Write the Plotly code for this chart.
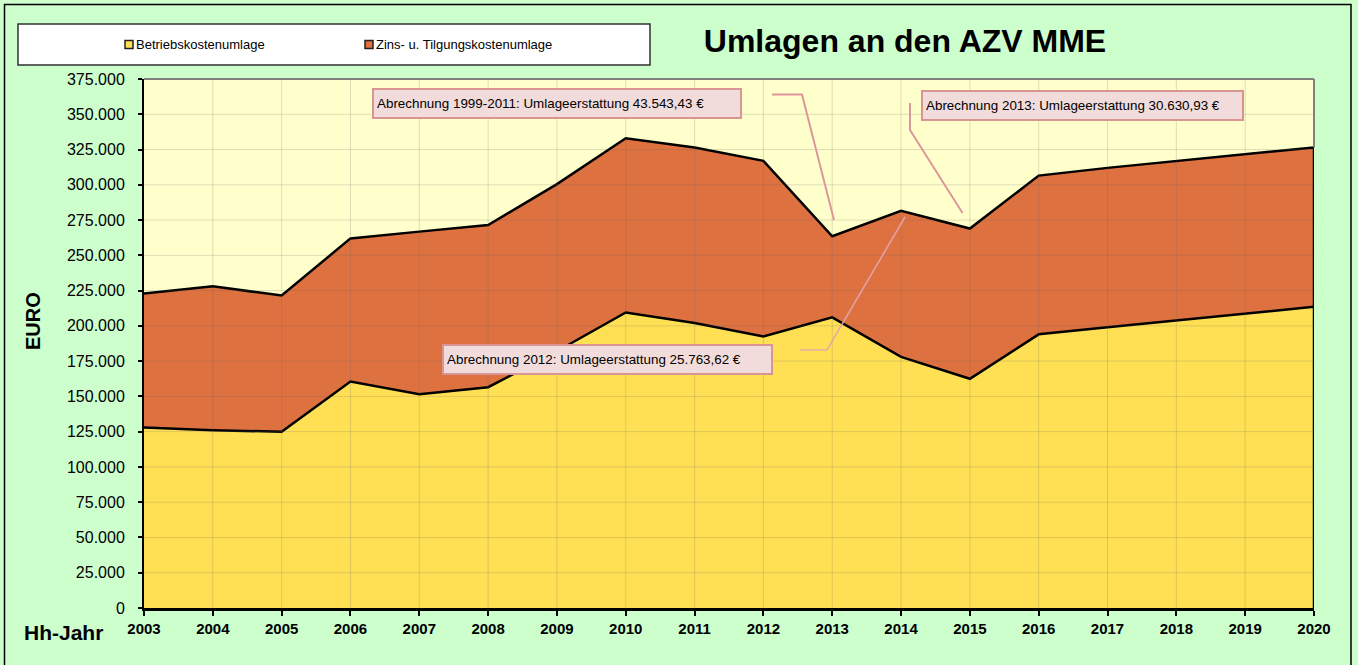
import plotly.graph_objects as go

# ---------------- data ----------------
years = [2003, 2004, 2005, 2006, 2007, 2008, 2009, 2010, 2011,
         2012, 2013, 2014, 2015, 2016, 2017, 2018, 2019, 2020]
betriebskosten = [128000, 126000, 125000, 160500, 151500, 156500, 182000, 209500, 202000,
                  192500, 206000, 178000, 162500, 194000, 199000, 204000, 208500, 213500]
zins_tilgung = [95000, 102000, 96500, 101500, 115300, 115000, 118500, 123500, 124500,
                124500, 57500, 103500, 106500, 112500, 113000, 113000, 113500, 113000]
y_ticks = [0, 25000, 50000, 75000, 100000, 125000, 150000, 175000, 200000,
           225000, 250000, 275000, 300000, 325000, 350000, 375000]
series_names = ["Betriebskostenumlage", "Zins- u. Tilgungskostenumlage"]
notes = ["Abrechnung 1999-2011: Umlageerstattung 43.543,43 €",
         "Abrechnung 2013: Umlageerstattung 30.630,93 €",
         "Abrechnung 2012: Umlageerstattung 25.763,62 €"]
title_text = "Umlagen an den AZV MME"
y_title = "EURO"
x_title = "Hh-Jahr"

# ---------------- styling ----------------
FONT = "Arial, 'Liberation Sans', sans-serif"
W, H = 1358, 665
L, R, T, B = 144, 1314, 79, 608          # plot area in pixels
PAPER_BG = "#CCFFCC"
PLOT_BG = "#FFFFCC"
YELLOW = "rgb(255,224,85)"
ORANGE = "rgb(222,113,64)"
GRID = "rgba(100,100,100,0.21)"
PINK_LINE = "rgb(222,150,155)"


def px(x):
    return (x - L) / (R - L)


def py(y):
    return (B - y) / (B - T)


fig = go.Figure()
fig.add_trace(go.Scatter(x=years, y=betriebskosten, name=series_names[0], stackgroup="s",
                         mode="lines", line=dict(color="black", width=2.5),
                         fillcolor=YELLOW, showlegend=False, hoverinfo="skip"))
fig.add_trace(go.Scatter(x=years, y=zins_tilgung, name=series_names[1], stackgroup="s",
                         mode="lines", line=dict(color="black", width=2.5),
                         fillcolor=ORANGE, showlegend=False, hoverinfo="skip"))
# right edge outline of the stacked area
fig.add_trace(go.Scatter(x=[years[-1], years[-1]],
                         y=[0, betriebskosten[-1] + zins_tilgung[-1]],
                         mode="lines", line=dict(color="black", width=2.5),
                         showlegend=False, hoverinfo="skip"))

shapes = []
# gridlines drawn above the areas (as in the original)
for yr in years[1:-1]:
    shapes.append(dict(type="line", xref="x", yref="paper", x0=yr, x1=yr, y0=0, y1=1,
                       line=dict(color=GRID, width=1), layer="above"))
for v in y_ticks[1:-1]:
    shapes.append(dict(type="line", xref="paper", yref="y", x0=0, x1=1, y0=v, y1=v,
                       line=dict(color=GRID, width=1), layer="above"))
# plot-area border (top and upper right, gray)
shapes.append(dict(type="line", xref="paper", yref="paper", x0=0, x1=1, y0=1, y1=1,
                   line=dict(color="#808080", width=2), layer="above"))
shapes.append(dict(type="line", xref="paper", yref="y", x0=1, x1=1,
                   y0=betriebskosten[-1] + zins_tilgung[-1], y1=y_ticks[-1],
                   line=dict(color="#808080", width=2), layer="above"))


# callout lines
def path(points):
    return "M " + " L ".join(f"{px(a):.5f},{py(b):.5f}" for a, b in points)


shapes.append(dict(type="path", xref="paper", yref="paper",
                   path=path([(772, 94.5), (802, 94.5), (834, 220)]),
                   line=dict(color=PINK_LINE, width=2), layer="above"))
shapes.append(dict(type="path", xref="paper", yref="paper",
                   path=path([(910, 103), (910, 130), (962.5, 213)]),
                   line=dict(color=PINK_LINE, width=2), layer="above"))
shapes.append(dict(type="path", xref="paper", yref="paper",
                   path=path([(800, 350), (827, 350), (905, 217)]),
                   line=dict(color="rgba(226,165,172,0.9)", width=1.6), layer="above"))
# legend box
shapes.append(dict(type="rect", xref="paper", yref="paper",
                   x0=px(18), x1=px(650), y0=py(65), y1=py(24),
                   fillcolor="white", line=dict(color="#303030", width=1.5), layer="above"))
# legend swatches
for xl, col in [(125, YELLOW), (365, ORANGE)]:
    shapes.append(dict(type="rect", xref="paper", yref="paper",
                       x0=px(xl), x1=px(xl + 8), y0=py(48.5), y1=py(40.5),
                       fillcolor=col, line=dict(color="#202020", width=1.5), layer="above"))
# outer frame
shapes.append(dict(type="rect", xref="paper", yref="paper",
                   x0=px(4.5), x1=px(1351), y0=py(700), y1=py(4.5),
                   fillcolor="rgba(0,0,0,0)", line=dict(color="black", width=1.5),
                   layer="above"))

annotations = []
# legend texts
for xl, name in [(134, series_names[0]), (374, series_names[1])]:
    annotations.append(dict(text=name, xref="paper", yref="paper", x=px(xl), y=py(44.5),
                            xanchor="left", yanchor="middle", showarrow=False,
                            font=dict(family=FONT, size=13, color="black")))
# note boxes
for text, cx, cy, wbox in [(notes[0], 557, 103.3, 368),
                           (notes[1], 1082.5, 105.5, 321),
                           (notes[2], 607.5, 359.5, 329)]:
    annotations.append(dict(text=text, xref="paper", yref="paper", x=px(cx), y=py(cy),
                            xanchor="center", yanchor="middle", showarrow=False,
                            align="left", width=wbox - 8, height=21,
                            bgcolor="#F2DCDB", bordercolor="#D99594",
                            borderwidth=2, borderpad=3,
                            font=dict(family=FONT, size=13.4, color="black")))
# axis titles
annotations.append(dict(text=y_title, xref="paper", yref="paper", x=px(32.5), y=py(321.5),
                        xanchor="center", yanchor="middle", textangle=-90, showarrow=False,
                        font=dict(family=FONT, size=20, color="black", weight="bold")))
annotations.append(dict(text=x_title, xref="paper", yref="paper", x=px(22), y=py(632),
                        xanchor="left", yanchor="middle", showarrow=False,
                        font=dict(family=FONT, size=21, color="black", weight="bold")))

fig.update_layout(
    width=W, height=H, autosize=False,
    margin=dict(l=L, r=W - R, t=T, b=H - B, pad=0),
    paper_bgcolor=PAPER_BG, plot_bgcolor=PLOT_BG,
    separators=",.",
    showlegend=False,
    hovermode=False,
    title=dict(text=title_text, x=905 / W, y=1 - 41 / H, xanchor="center", yanchor="middle",
               xref="container", yref="container",
               font=dict(family=FONT, size=32, color="black", weight="bold")),
    xaxis=dict(range=[years[0], years[-1]], tickvals=years, ticks="outside", ticklen=5,
               tickwidth=1.5, tickcolor="black", showline=True, linecolor="black",
               linewidth=2.5, showgrid=False, zeroline=False, fixedrange=True,
               tickfont=dict(family=FONT, size=15, color="black", weight="bold")),
    yaxis=dict(range=[y_ticks[0], y_ticks[-1]], tickvals=y_ticks, tickformat=",.0f",
               ticks="outside", ticklen=4, tickwidth=1.5, tickcolor="black",
               showline=True, linecolor="black", linewidth=2, showgrid=False,
               zeroline=False, fixedrange=True, ticklabelstandoff=10,
               tickfont=dict(family=FONT, size=16, color="black")),
    shapes=shapes,
    annotations=annotations,
)

fig.write_html("out.html", config={"displayModeBar": False},
               post_script="document.body.style.margin='0';document.body.style.overflow='hidden';")
